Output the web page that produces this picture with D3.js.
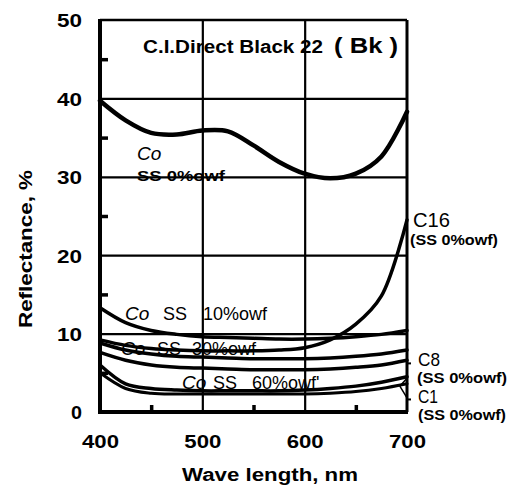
<!DOCTYPE html>
<html><head><meta charset="utf-8">
<script src="https://cdn.jsdelivr.net/npm/d3@7/dist/d3.min.js"></script>
<style>
html,body{margin:0;padding:0;background:#fff;}
text{font-family:"Liberation Sans",Arial,sans-serif;fill:#000;}
</style></head>
<body><svg id="c" width="515" height="486"></svg>
<script>
// ---- data ----
const xTicks = [400, 500, 600, 700];
const yTicks = [0, 10, 20, 30, 40, 50];
const xMinor = [450, 550, 650];
const yMinor = [5, 15, 25, 35, 45];
const wavelengths = [400, 425, 450, 475, 500, 525, 550, 575, 600, 625, 650, 675, 700];
const coSS0  = [39.7, 37.2, 35.6, 35.4, 35.9, 35.8, 34.0, 31.9, 30.4, 29.8, 30.4, 32.6, 38.3];
const coSS10 = [13.3, 11.4, 10.4, 9.9, 9.6, 9.5, 9.4, 9.3, 9.3, 9.4, 9.6, 9.9, 10.4];
const c16    = [9.2, 8.5, 8.1, 7.9, 7.8, 7.8, 7.8, 7.9, 8.2, 9.2, 11.2, 14.8, 24.5];
const coSS30 = [8.8, 7.9, 7.4, 7.1, 7.0, 6.9, 6.8, 6.8, 6.8, 6.9, 7.1, 7.4, 7.9];
const c8     = [7.6, 6.6, 6.0, 5.7, 5.6, 5.5, 5.4, 5.4, 5.4, 5.5, 5.7, 6.0, 6.6];
const coSS60 = [6.0, 3.6, 3.0, 2.8, 2.7, 2.7, 2.7, 2.7, 2.8, 3.0, 3.3, 3.8, 4.5];
const c1     = [5.0, 3.0, 2.4, 2.3, 2.3, 2.3, 2.3, 2.3, 2.3, 2.4, 2.6, 3.0, 3.6];
const seriesNames = ["Co SS 0%owf", "Co SS 10%owf", "C16 SS 0%owf", "Co SS 30%owf", "C8 SS 0%owf", "Co SS 60%owf", "C1 SS 0%owf"];
const seriesValues = [coSS0, coSS10, c16, coSS30, c8, coSS60, c1];
const title = "C.I.Direct Black 22";
const titleTag = "( Bk )";
const xTitle = "Wave length,  nm";
const yTitle = "Reflectance,  %";

// ---- drawing ----
const svg = d3.select("#c");
const x = d3.scaleLinear().domain([400, 700]).range([100, 407]);
const y = d3.scaleLinear().domain([0, 50]).range([412, 20]);
const FF = "Liberation Sans, Arial, sans-serif";

// grid lines
const g = svg.append("g");
g.append("g").attr("transform", `translate(${x(400)},0)`)
  .call(d3.axisLeft(y).tickValues([10, 20, 30, 40]).tickSize(-(x(700) - x(400))).tickFormat(""))
  .call(s => { s.select(".domain").remove(); s.selectAll("line").attr("stroke", "#000").attr("stroke-width", 2.2); });
g.append("g").attr("transform", `translate(0,${y(0)})`)
  .call(d3.axisBottom(x).tickValues([500, 600]).tickSize(-(y(0) - y(50))).tickFormat(""))
  .call(s => { s.select(".domain").remove(); s.selectAll("line").attr("stroke", "#000").attr("stroke-width", 2.2); });

// minor ticks inside
g.append("g").attr("transform", `translate(${x(400)},0)`)
  .call(d3.axisLeft(y).tickValues(yMinor).tickSize(-8).tickFormat(""))
  .call(s => { s.select(".domain").remove(); s.selectAll("line").attr("stroke", "#000").attr("stroke-width", 3.5); });
g.append("g").attr("transform", `translate(0,${y(0)})`)
  .call(d3.axisBottom(x).tickValues(xMinor).tickSize(-7).tickFormat(""))
  .call(s => { s.select(".domain").remove(); s.selectAll("line").attr("stroke", "#000").attr("stroke-width", 3.5); });

// frame
svg.append("line").attr("x1", x(400)).attr("x2", x(700)).attr("y1", y(50)).attr("y2", y(50)).attr("stroke", "#000").attr("stroke-width", 2.5);
svg.append("line").attr("x1", x(700)).attr("x2", x(700)).attr("y1", y(50)).attr("y2", y(0)).attr("stroke", "#000").attr("stroke-width", 3);
svg.append("line").attr("x1", x(400)).attr("x2", x(400)).attr("y1", y(50) - 1).attr("y2", y(0) + 2).attr("stroke", "#000").attr("stroke-width", 4);
svg.append("line").attr("x1", x(400) - 2).attr("x2", x(700) + 1).attr("y1", y(0)).attr("y2", y(0)).attr("stroke", "#000").attr("stroke-width", 4);

// tick labels
svg.append("g").attr("transform", `translate(${x(400) - 18},0)`)
  .call(d3.axisLeft(y).tickValues(yTicks).tickSize(0).tickPadding(0))
  .call(s => { s.select(".domain").remove(); s.selectAll("text").attr("font-size", 19).attr("font-weight", "bold").attr("font-family", FF).attr("dy", "0.36em")
    .attr("textLength", d => d === 0 ? 11 : 25).attr("lengthAdjust", "spacingAndGlyphs"); });
svg.append("g").attr("transform", `translate(0,${y(0) + 22})`)
  .call(d3.axisBottom(x).tickValues(xTicks).tickSize(0).tickPadding(0).tickFormat(d3.format("d")))
  .call(s => { s.select(".domain").remove(); s.selectAll("text").attr("font-size", 19).attr("font-weight", "bold").attr("font-family", FF).attr("dy", "0.71em")
    .attr("textLength", 37).attr("lengthAdjust", "spacingAndGlyphs"); });

// axis titles
svg.append("text").attr("x", 182).attr("y", 481)
  .attr("font-size", 18).attr("font-weight", "bold").attr("textLength", 176).attr("lengthAdjust", "spacingAndGlyphs").text(xTitle);
svg.append("text").attr("transform", "translate(32,328) rotate(-90)")
  .attr("font-size", 18).attr("font-weight", "bold").attr("textLength", 158).attr("lengthAdjust", "spacingAndGlyphs").text(yTitle);

// curves
const line = d3.line().x((d, i) => x(wavelengths[i])).y(d => y(d)).curve(d3.curveCatmullRom.alpha(0.5));
const widths = [4.5, 3.5, 3.5, 3.5, 3.5, 3.5, 3];
svg.append("g").selectAll("path").data(seriesValues).join("path")
  .attr("d", d => line(d)).attr("fill", "none").attr("stroke", "#000")
  .attr("stroke-width", (d, i) => widths[i]).attr("stroke-linecap", "round");

// title
svg.append("text").attr("x", 143).attr("y", 53).attr("font-size", 18).attr("font-weight", "bold")
  .attr("textLength", 180).attr("lengthAdjust", "spacingAndGlyphs").text(title);
svg.append("text").attr("x", 334).attr("y", 53).attr("font-size", 22).attr("font-weight", "bold")
  .attr("textLength", 64).attr("lengthAdjust", "spacingAndGlyphs").text(titleTag);

// in-plot labels
function coLabel(cx, cy, ssX, pctX, pct) {
  svg.append("text").attr("x", cx).attr("y", cy).attr("font-size", 19).attr("font-style", "italic").text("Co");
  svg.append("text").attr("x", ssX).attr("y", cy).attr("font-size", 18).text("SS");
  svg.append("text").attr("x", pctX).attr("y", cy).attr("font-size", 18).text(pct);
}
svg.append("text").attr("x", 137).attr("y", 160).attr("font-size", 19).attr("font-style", "italic").text("Co");
svg.append("text").attr("x", 137).attr("y", 181).attr("font-size", 15).attr("font-weight", "bold").attr("textLength", 88).attr("lengthAdjust", "spacingAndGlyphs").text("SS 0%owf");
coLabel(125, 320, 163, 203, "10%owf");
coLabel(121, 355, 157, 192, "30%owf");
coLabel(182, 389, 213, 252, "60%owf'");

// right labels
const rl = [["C16", 413, 227, 20, 37], ["(SS 0%owf)", 410, 245, 15, 88], ["C8", 418, 366, 19, 22], ["(SS 0%owf)", 417, 383, 14, 90], ["C1", 418, 403, 18, 20], ["(SS 0%owf)", 418, 420, 14, 88]];
svg.append("g").selectAll("text").data(rl).join("text")
  .attr("x", d => d[1]).attr("y", d => d[2]).attr("font-size", d => d[3])
  .attr("font-weight", d => d[3] < 16 ? "bold" : "normal")
  .attr("textLength", d => d[4]).attr("lengthAdjust", "spacingAndGlyphs").text(d => d[0]);
// short leader ticks to curves
svg.append("line").attr("x1", x(700)).attr("x2", x(700) + 4).attr("y1", y(6.2)).attr("y2", y(6.2)).attr("stroke", "#000").attr("stroke-width", 2);
svg.append("line").attr("x1", x(700)).attr("x2", x(700) + 4).attr("y1", y(1.6)).attr("y2", y(1.6)).attr("stroke", "#000").attr("stroke-width", 2);
svg.append("path").attr("d", `M${x(700)},${y(4.3)} L${x(693)},${y(3.3)} L${x(700)},${y(1.8)}`).attr("fill", "none").attr("stroke", "#000").attr("stroke-width", 1.5);
</script></body></html>
